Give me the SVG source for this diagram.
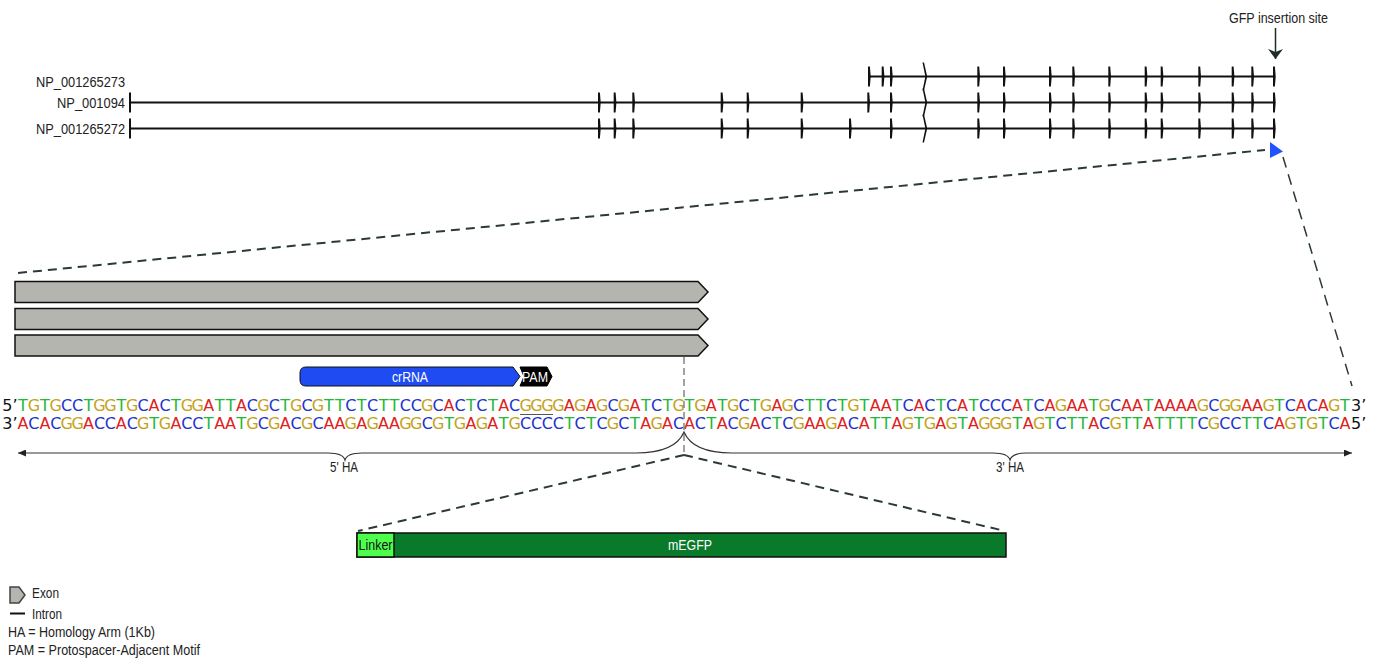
<svg xmlns="http://www.w3.org/2000/svg" xmlns:xlink="http://www.w3.org/1999/xlink" width="1375" height="661" viewBox="0 0 1375 661">
<style>
.lbl{font-family:"Liberation Sans Narrow","Liberation Sans",Arial,sans-serif;font-size:14px;fill:#222}
.seq{font-family:"DejaVu Sans",Verdana,sans-serif;font-size:16px;text-anchor:middle}
.end{font-family:"DejaVu Sans",Verdana,sans-serif;font-size:16px;fill:#111}
.a{fill:#dc2222}.c{fill:#2233cc}.g{fill:#c4a31c}.t{fill:#22b83a}
.intron{stroke:#111;stroke-width:1.8;fill:none}
.exon{fill:#b5b5af;stroke:#111;stroke-width:1.5}
.dash{stroke:#2b3a35;stroke-width:2;fill:none;stroke-dasharray:9 6}
.vdash{stroke:#7d8783;stroke-width:1.5;fill:none;stroke-dasharray:7 4}
.brace{stroke:#333;stroke-width:1.2;fill:none}
.wt{fill:#fff}
</style>
<defs>
<path id="tk" d="M-1,-10 H0.9 L1.7,0 L0.9,10 H-1 Z" fill="#111"/>
<path id="wd" d="M-1.5,-14 H0 L3.2,0 L0,14 H-1.5 L1.4,0 Z" fill="#111"/>
<rect id="bar" x="-1" y="-10" width="2" height="20" fill="#111"/>
<marker id="ah" viewBox="0 0 8 7" refX="8" refY="3.5" markerWidth="8" markerHeight="7" markerUnits="userSpaceOnUse" orient="auto-start-reverse"><path d="M0,0 L8,3.5 L0,7 Z" fill="#222"/></marker>
<marker id="ahg" viewBox="0 0 10 15" refX="10" refY="7.5" markerWidth="10" markerHeight="15" markerUnits="userSpaceOnUse" orient="auto"><path d="M0,0 L10,7.5 L0,15 L3,7.5 Z" fill="#1e2d28"/></marker>
</defs>

<g id="gfp-site">
<text class="lbl" x="1229" y="23" textLength="99" lengthAdjust="spacingAndGlyphs">GFP insertion site</text>
</g>

<g id="track-NP_001265273">
<text class="lbl" x="36" y="87" textLength="89" lengthAdjust="spacingAndGlyphs">NP_001265273</text>
<line class="intron" x1="869" y1="76.5" x2="1274" y2="76.5"/>
<use xlink:href="#tk" x="869" y="76.5"/><use xlink:href="#tk" x="882.7" y="76.5"/><use xlink:href="#tk" x="891" y="76.5"/>
<use xlink:href="#wd" x="924" y="76.5"/>
<use xlink:href="#tk" x="978.3" y="76.5"/><use xlink:href="#tk" x="1004" y="76.5"/><use xlink:href="#tk" x="1050" y="76.5"/><use xlink:href="#tk" x="1073.3" y="76.5"/><use xlink:href="#tk" x="1109.3" y="76.5"/><use xlink:href="#tk" x="1145.7" y="76.5"/><use xlink:href="#tk" x="1161.7" y="76.5"/><use xlink:href="#tk" x="1199.3" y="76.5"/><use xlink:href="#tk" x="1232.7" y="76.5"/><use xlink:href="#tk" x="1252.3" y="76.5"/><use xlink:href="#tk" x="1274" y="76.5"/>
</g>

<g id="track-NP_001094">
<text class="lbl" x="57" y="108" textLength="68" lengthAdjust="spacingAndGlyphs">NP_001094</text>
<line class="intron" x1="130" y1="102.5" x2="1274" y2="102.5"/>
<use xlink:href="#bar" x="130" y="102.5"/>
<use xlink:href="#tk" x="599" y="102.5"/><use xlink:href="#tk" x="614.7" y="102.5"/><use xlink:href="#tk" x="633.3" y="102.5"/><use xlink:href="#tk" x="721.7" y="102.5"/><use xlink:href="#tk" x="747.7" y="102.5"/><use xlink:href="#tk" x="801.7" y="102.5"/><use xlink:href="#tk" x="868.3" y="102.5"/><use xlink:href="#tk" x="891" y="102.5"/>
<use xlink:href="#wd" x="924" y="102.5"/>
<use xlink:href="#tk" x="978.3" y="102.5"/><use xlink:href="#tk" x="1004" y="102.5"/><use xlink:href="#tk" x="1050" y="102.5"/><use xlink:href="#tk" x="1073.3" y="102.5"/><use xlink:href="#tk" x="1109.3" y="102.5"/><use xlink:href="#tk" x="1145.7" y="102.5"/><use xlink:href="#tk" x="1161.7" y="102.5"/><use xlink:href="#tk" x="1199.3" y="102.5"/><use xlink:href="#tk" x="1232.7" y="102.5"/><use xlink:href="#tk" x="1252.3" y="102.5"/><use xlink:href="#tk" x="1274" y="102.5"/>
</g>

<g id="track-NP_001265272">
<text class="lbl" x="36" y="134" textLength="89" lengthAdjust="spacingAndGlyphs">NP_001265272</text>
<line class="intron" x1="130" y1="128.5" x2="1274" y2="128.5"/>
<use xlink:href="#bar" x="130" y="128.5"/>
<use xlink:href="#tk" x="599" y="128.5"/><use xlink:href="#tk" x="614.7" y="128.5"/><use xlink:href="#tk" x="633.3" y="128.5"/><use xlink:href="#tk" x="721.7" y="128.5"/><use xlink:href="#tk" x="747.7" y="128.5"/><use xlink:href="#tk" x="801.7" y="128.5"/><use xlink:href="#tk" x="850" y="128.5"/><use xlink:href="#tk" x="891" y="128.5"/>
<use xlink:href="#wd" x="924" y="128.5"/>
<use xlink:href="#tk" x="978.3" y="128.5"/><use xlink:href="#tk" x="1004" y="128.5"/><use xlink:href="#tk" x="1050" y="128.5"/><use xlink:href="#tk" x="1073.3" y="128.5"/><use xlink:href="#tk" x="1109.3" y="128.5"/><use xlink:href="#tk" x="1145.7" y="128.5"/><use xlink:href="#tk" x="1161.7" y="128.5"/><use xlink:href="#tk" x="1199.3" y="128.5"/><use xlink:href="#tk" x="1232.7" y="128.5"/><use xlink:href="#tk" x="1252.3" y="128.5"/><use xlink:href="#tk" x="1274" y="128.5"/>
</g>

<g id="insertion-marker">
<path d="M1270,142 L1283,151.5 L1270,158 Z" fill="#2152ff"/>
</g>

<g id="exon-arrows">
<path class="exon" d="M15,281.5 H698 L708,292 L698,302.5 H15 Z"/>
<path class="exon" d="M15,308.5 H698 L708,319 L698,329.5 H15 Z"/>
<path class="exon" d="M15,335 H698 L708,345.5 L698,356 H15 Z"/>
</g>

<g id="crRNA">
<path d="M306,367 H513 L520,376.5 L513,386 H306 Q300,386 300,380 V373 Q300,367 306,367 Z" fill="#1f4cf2" stroke="#111" stroke-width="1"/>
<text class="lbl wt" x="392" y="381.5" textLength="36" lengthAdjust="spacingAndGlyphs">crRNA</text>
</g>

<g id="PAM">
<path d="M520,367 H547 L552,376.5 L547,386 H520 L524,376.5 Z" fill="#000" stroke="#000" stroke-width="1"/>
<text class="lbl wt" x="522" y="381.5" textLength="26" lengthAdjust="spacingAndGlyphs">PAM</text>
</g>

<g id="sequence">
<text class="end" x="17.5" y="411" text-anchor="end">5’</text>
<text class="end" x="1351" y="411">3’</text>
<text class="end" x="17.5" y="429" text-anchor="end">3’</text>
<text class="end" x="1351" y="429">5’</text>
<text class="seq" y="411" x="23 33.9 44.9 55.8 66.7 77.6 88.6 99.5 110.4 121.3 132.3 143.2 154.1 165 176 186.9 197.8 208.7 219.7 230.6 241.5 252.4 263.4 274.3 285.2 296.2 307.1 318 328.9 339.9 350.8 361.7 372.6 383.6 394.5 405.4 416.3 427.3 438.2 449.1 460 471 481.9 492.8 503.7 514.7 525.6 536.5 547.4 558.4 569.3 580.2 591.2 602.1 613 623.9 634.9 645.8 656.7 667.6 678.6 689.5 700.4 711.3 722.3 733.2 744.1 755 766 776.9 787.8 798.7 809.7 820.6 831.5 842.5 853.4 864.3 875.2 886.2 897.1 908 918.9 929.9 940.8 951.7 962.6 973.6 984.5 995.4 1006.3 1017.3 1028.2 1039.1 1050 1061 1071.9 1082.8 1093.7 1104.7 1115.6 1126.5 1137.5 1148.4 1159.3 1170.2 1181.2 1192.1 1203 1213.9 1224.9 1235.8 1246.7 1257.6 1268.6 1279.5 1290.4 1301.3 1312.3 1323.2 1334.1 1345"><tspan class="t">T</tspan><tspan class="g">G</tspan><tspan class="t">T</tspan><tspan class="g">G</tspan><tspan class="c">CC</tspan><tspan class="t">T</tspan><tspan class="g">GG</tspan><tspan class="t">T</tspan><tspan class="g">G</tspan><tspan class="c">C</tspan><tspan class="a">A</tspan><tspan class="c">C</tspan><tspan class="t">T</tspan><tspan class="g">GG</tspan><tspan class="a">A</tspan><tspan class="t">TT</tspan><tspan class="a">A</tspan><tspan class="c">C</tspan><tspan class="g">G</tspan><tspan class="c">C</tspan><tspan class="t">T</tspan><tspan class="g">G</tspan><tspan class="c">C</tspan><tspan class="g">G</tspan><tspan class="t">TT</tspan><tspan class="c">C</tspan><tspan class="t">T</tspan><tspan class="c">C</tspan><tspan class="t">TT</tspan><tspan class="c">CC</tspan><tspan class="g">G</tspan><tspan class="c">C</tspan><tspan class="a">A</tspan><tspan class="c">C</tspan><tspan class="t">T</tspan><tspan class="c">C</tspan><tspan class="t">T</tspan><tspan class="a">A</tspan><tspan class="c">C</tspan><tspan class="g">GGGG</tspan><tspan class="a">A</tspan><tspan class="g">G</tspan><tspan class="a">A</tspan><tspan class="g">G</tspan><tspan class="c">C</tspan><tspan class="g">G</tspan><tspan class="a">A</tspan><tspan class="t">T</tspan><tspan class="c">C</tspan><tspan class="t">T</tspan><tspan class="g">G</tspan><tspan class="t">T</tspan><tspan class="g">G</tspan><tspan class="a">A</tspan><tspan class="t">T</tspan><tspan class="g">G</tspan><tspan class="c">C</tspan><tspan class="t">T</tspan><tspan class="g">G</tspan><tspan class="a">A</tspan><tspan class="g">G</tspan><tspan class="c">C</tspan><tspan class="t">TT</tspan><tspan class="c">C</tspan><tspan class="t">T</tspan><tspan class="g">G</tspan><tspan class="t">T</tspan><tspan class="a">AA</tspan><tspan class="t">T</tspan><tspan class="c">C</tspan><tspan class="a">A</tspan><tspan class="c">C</tspan><tspan class="t">T</tspan><tspan class="c">C</tspan><tspan class="a">A</tspan><tspan class="t">T</tspan><tspan class="c">CC</tspan><tspan class="c">C</tspan><tspan class="a">A</tspan><tspan class="t">T</tspan><tspan class="c">C</tspan><tspan class="a">A</tspan><tspan class="g">G</tspan><tspan class="a">AA</tspan><tspan class="t">T</tspan><tspan class="g">G</tspan><tspan class="c">C</tspan><tspan class="a">AA</tspan><tspan class="t">T</tspan><tspan class="a">AAAA</tspan><tspan class="g">G</tspan><tspan class="c">C</tspan><tspan class="g">GG</tspan><tspan class="a">AA</tspan><tspan class="g">G</tspan><tspan class="t">T</tspan><tspan class="c">C</tspan><tspan class="a">A</tspan><tspan class="c">C</tspan><tspan class="a">A</tspan><tspan class="g">G</tspan><tspan class="t">T</tspan></text>
<text class="seq" y="429" x="23 33.9 44.9 55.8 66.7 77.6 88.6 99.5 110.4 121.3 132.3 143.2 154.1 165 176 186.9 197.8 208.7 219.7 230.6 241.5 252.4 263.4 274.3 285.2 296.2 307.1 318 328.9 339.9 350.8 361.7 372.6 383.6 394.5 405.4 416.3 427.3 438.2 449.1 460 471 481.9 492.8 503.7 514.7 525.6 536.5 547.4 558.4 569.3 580.2 591.2 602.1 613 623.9 634.9 645.8 656.7 667.6 678.6 689.5 700.4 711.3 722.3 733.2 744.1 755 766 776.9 787.8 798.7 809.7 820.6 831.5 842.5 853.4 864.3 875.2 886.2 897.1 908 918.9 929.9 940.8 951.7 962.6 973.6 984.5 995.4 1006.3 1017.3 1028.2 1039.1 1050 1061 1071.9 1082.8 1093.7 1104.7 1115.6 1126.5 1137.5 1148.4 1159.3 1170.2 1181.2 1192.1 1203 1213.9 1224.9 1235.8 1246.7 1257.6 1268.6 1279.5 1290.4 1301.3 1312.3 1323.2 1334.1 1345"><tspan class="a">A</tspan><tspan class="c">C</tspan><tspan class="a">A</tspan><tspan class="c">C</tspan><tspan class="g">GG</tspan><tspan class="a">A</tspan><tspan class="c">CC</tspan><tspan class="a">A</tspan><tspan class="c">C</tspan><tspan class="g">G</tspan><tspan class="t">T</tspan><tspan class="g">G</tspan><tspan class="a">A</tspan><tspan class="c">CC</tspan><tspan class="t">T</tspan><tspan class="a">AA</tspan><tspan class="t">T</tspan><tspan class="g">G</tspan><tspan class="c">C</tspan><tspan class="g">G</tspan><tspan class="a">A</tspan><tspan class="c">C</tspan><tspan class="g">G</tspan><tspan class="c">C</tspan><tspan class="a">AA</tspan><tspan class="g">G</tspan><tspan class="a">A</tspan><tspan class="g">G</tspan><tspan class="a">AA</tspan><tspan class="g">GG</tspan><tspan class="c">C</tspan><tspan class="g">G</tspan><tspan class="t">T</tspan><tspan class="g">G</tspan><tspan class="a">A</tspan><tspan class="g">G</tspan><tspan class="a">A</tspan><tspan class="t">T</tspan><tspan class="g">G</tspan><tspan class="c">CCCC</tspan><tspan class="t">T</tspan><tspan class="c">C</tspan><tspan class="t">T</tspan><tspan class="c">C</tspan><tspan class="g">G</tspan><tspan class="c">C</tspan><tspan class="t">T</tspan><tspan class="a">A</tspan><tspan class="g">G</tspan><tspan class="a">A</tspan><tspan class="c">C</tspan><tspan class="a">A</tspan><tspan class="c">C</tspan><tspan class="t">T</tspan><tspan class="a">A</tspan><tspan class="c">C</tspan><tspan class="g">G</tspan><tspan class="a">A</tspan><tspan class="c">C</tspan><tspan class="t">T</tspan><tspan class="c">C</tspan><tspan class="g">G</tspan><tspan class="a">AA</tspan><tspan class="g">G</tspan><tspan class="a">A</tspan><tspan class="c">C</tspan><tspan class="a">A</tspan><tspan class="t">TT</tspan><tspan class="a">A</tspan><tspan class="g">G</tspan><tspan class="t">T</tspan><tspan class="g">G</tspan><tspan class="a">A</tspan><tspan class="g">G</tspan><tspan class="t">T</tspan><tspan class="a">A</tspan><tspan class="g">GG</tspan><tspan class="g">G</tspan><tspan class="t">T</tspan><tspan class="a">A</tspan><tspan class="g">G</tspan><tspan class="t">T</tspan><tspan class="c">C</tspan><tspan class="t">TT</tspan><tspan class="a">A</tspan><tspan class="c">C</tspan><tspan class="g">G</tspan><tspan class="t">TT</tspan><tspan class="a">A</tspan><tspan class="t">TTTT</tspan><tspan class="c">C</tspan><tspan class="g">G</tspan><tspan class="c">CC</tspan><tspan class="t">TT</tspan><tspan class="c">C</tspan><tspan class="a">A</tspan><tspan class="g">G</tspan><tspan class="t">T</tspan><tspan class="g">G</tspan><tspan class="t">T</tspan><tspan class="c">C</tspan><tspan class="a">A</tspan></text>
<line x1="520" y1="414.5" x2="553" y2="414.5" stroke="#555" stroke-width="1.2"/>
</g>

<g id="ha-labels">
<text class="lbl" x="330" y="472" textLength="28" lengthAdjust="spacingAndGlyphs">5' HA</text>
<text class="lbl" x="996" y="472" textLength="28" lengthAdjust="spacingAndGlyphs">3' HA</text>
</g>

<g id="mEGFP-cassette">
<rect x="357" y="533" width="649" height="24" fill="#087a2a" stroke="#111" stroke-width="1.5"/>
<rect x="357" y="533" width="37" height="24" fill="#4dff4d" stroke="#111" stroke-width="1.5"/>
<text class="lbl" x="358.5" y="550" textLength="34" lengthAdjust="spacingAndGlyphs" style="fill:#111">Linker</text>
<text class="lbl wt" x="668" y="550" textLength="44" lengthAdjust="spacingAndGlyphs">mEGFP</text>
</g>

<g id="connectors">
<line x1="1275.5" y1="28" x2="1275.5" y2="59" stroke="#1e2d28" stroke-width="1.5" marker-end="url(#ahg)"/>
<line class="dash" x1="18" y1="273" x2="1265" y2="150"/>
<line class="dash" x1="1283" y1="157" x2="1352" y2="386" style="stroke-width:1.5;stroke-dasharray:11 7"/>
<line class="vdash" x1="684" y1="357" x2="684" y2="455"/>
<path class="brace" marker-start="url(#ah)" marker-end="url(#ah)" d="M18,453 H328 Q343,453 345,460 Q347,453 362,453 H636 C662,453 678,446 684,432 C690,446 706,453 732,453 H993 Q1008,453 1010,460 Q1012,453 1027,453 H1352"/>
<line class="dash" x1="684" y1="455" x2="358" y2="531"/>
<line class="dash" x1="684" y1="455" x2="1005" y2="531"/>
</g>

<g id="legend">
<path class="exon" d="M10,587 H19 L25,595 L19,603 H10 Z" style="stroke:#444"/>
<text class="lbl" x="32" y="598" textLength="27" lengthAdjust="spacingAndGlyphs">Exon</text>
<line x1="10" y1="613.5" x2="25" y2="613.5" stroke="#111" stroke-width="2"/>
<text class="lbl" x="32" y="618.5" textLength="30" lengthAdjust="spacingAndGlyphs">Intron</text>
<text class="lbl" x="8" y="637" textLength="147" lengthAdjust="spacingAndGlyphs">HA = Homology Arm (1Kb)</text>
<text class="lbl" x="8" y="655" textLength="192" lengthAdjust="spacingAndGlyphs">PAM = Protospacer-Adjacent Motif</text>
</g>
</svg>
